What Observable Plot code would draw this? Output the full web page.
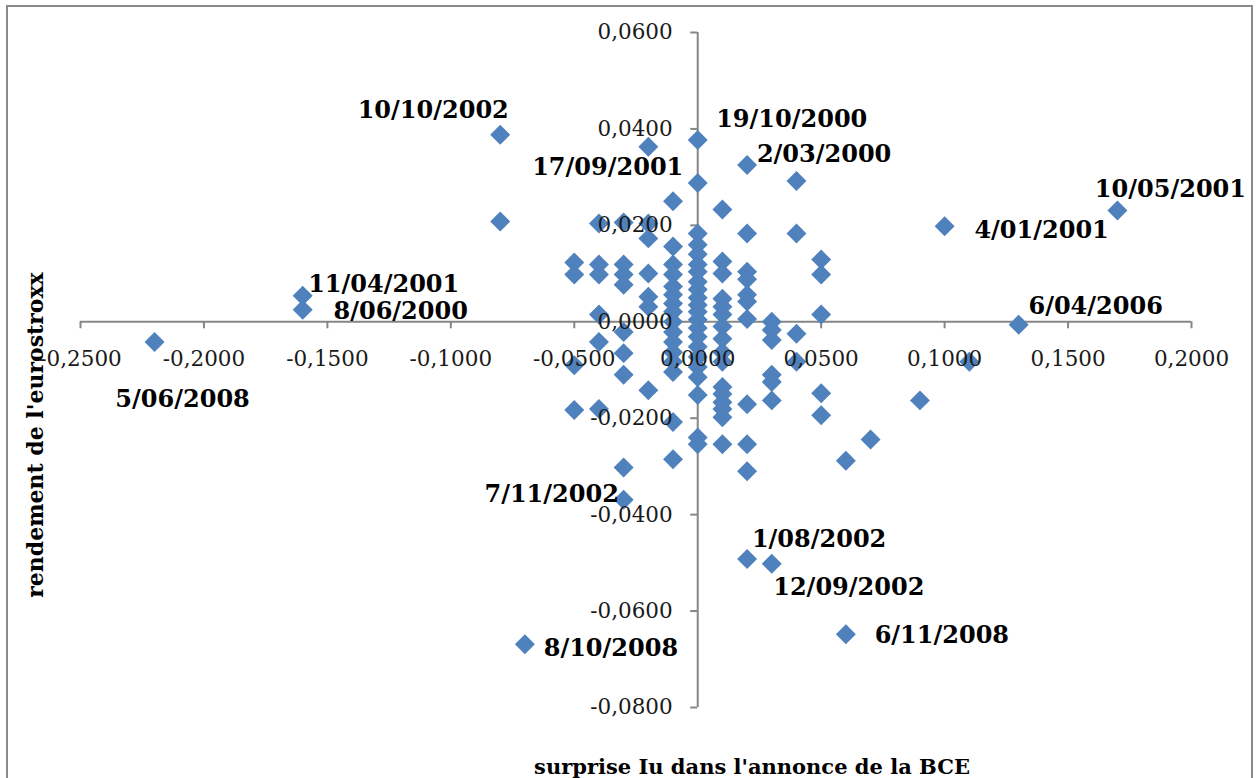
<!DOCTYPE html>
<html>
<head>
<meta charset="utf-8">
<script src="https://cdn.jsdelivr.net/npm/d3@7"></script>
<script src="https://cdn.jsdelivr.net/npm/@observablehq/plot@0.6"></script>
<style>
  html, body { margin: 0; padding: 0; background: #fff; overflow: hidden; }
  #wrap { position: relative; width: 1256px; height: 778px; }
  #border { position: absolute; left: 6px; top: 5px; width: 1247px; height: 800px; border: 2px solid #8a8a8a; box-sizing: border-box; pointer-events: none; }
  #wrap svg { position: absolute; left: 0; top: 0; }
</style>
</head>
<body>
<div id="wrap"><div id="border"></div></div>
<script>
// ---- data ----
const surpriseIu = [
  -0.22,
  -0.16, -0.16,
  -0.08, -0.08,
  -0.07,
  -0.05, -0.05, -0.05, -0.05,
  -0.04, -0.04, -0.04, -0.04, -0.04, -0.04,
  -0.03, -0.03, -0.03, -0.03, -0.03, -0.03, -0.03, -0.03, -0.03,
  -0.02, -0.02, -0.02, -0.02, -0.02, -0.02, -0.02,
  -0.01, -0.01, -0.01, -0.01, -0.01, -0.01, -0.01, -0.01, -0.01, -0.01, -0.01, -0.01, -0.01, -0.01, -0.01, -0.01,
  0, 0, 0, 0, 0, 0, 0, 0, 0, 0, 0, 0, 0, 0, 0, 0, 0, 0, 0, 0, 0, 0,
  0.01, 0.01, 0.01, 0.01, 0.01, 0.01, 0.01, 0.01, 0.01, 0.01, 0.01, 0.01, 0.01, 0.01, 0.01, 0.01,
  0.02, 0.02, 0.02, 0.02, 0.02, 0.02, 0.02, 0.02, 0.02, 0.02, 0.02,
  0.03, 0.03, 0.03, 0.03, 0.03, 0.03, 0.03,
  0.04, 0.04, 0.04, 0.04,
  0.05, 0.05, 0.05, 0.05, 0.05,
  0.06, 0.06,
  0.07, 0.09, 0.10, 0.11, 0.13, 0.17
];
const rendement = [
  -0.0042,
  0.0054, 0.0025,
  0.0388, 0.0208,
  -0.0669,
  0.0123, 0.0098, -0.0090, -0.0183,
  0.0204, 0.0119, 0.0098, 0.0015, -0.0042, -0.0181,
  0.0206, 0.0119, 0.0098, 0.0077, -0.0021, -0.0065, -0.0110, -0.0302, -0.0369,
  0.0363, 0.0204, 0.0173, 0.0100, 0.0052, 0.0031, -0.0142,
  0.0250, 0.0156, 0.0119, 0.0098, 0.0073, 0.0056, 0.0038, 0.0021, 0.0000, -0.0021, -0.0042, -0.0063, -0.0083, -0.0104, -0.0208, -0.0285,
  0.0377, 0.0288, 0.0183, 0.0160, 0.0140, 0.0119, 0.0104, 0.0083, 0.0067, 0.0050, 0.0035, 0.0021, 0.0004, -0.0013, -0.0031, -0.0052, -0.0073, -0.0094, -0.0115, -0.0152, -0.0240, -0.0254,
  0.0233, 0.0125, 0.0100, 0.0048, 0.0031, 0.0015, -0.0010, -0.0035, -0.0063, -0.0083, -0.0135, -0.0150, -0.0167, -0.0181, -0.0198, -0.0254,
  0.0325, 0.0183, 0.0104, 0.0088, 0.0056, 0.0042, 0.0006, -0.0171, -0.0254, -0.0310, -0.0492,
  0.0000, -0.0017, -0.0038, -0.0110, -0.0125, -0.0163, -0.0502,
  0.0292, 0.0183, -0.0025, -0.0083,
  0.0129, 0.0098, 0.0015, -0.0148, -0.0194,
  -0.0288, -0.0648,
  -0.0244, -0.0163, 0.0198, -0.0083, -0.0006, 0.0231
];

const labelDates = ["10/10/2002", "19/10/2000", "2/03/2000", "17/09/2001", "10/05/2001", "4/01/2001",
  "11/04/2001", "8/06/2000", "6/04/2006", "5/06/2008", "7/11/2002", "1/08/2002", "12/09/2002", "6/11/2008", "8/10/2008"];
const labelSurprise = [-0.08, 0, 0.02, 0, 0.17, 0.10, -0.16, -0.16, 0.13, -0.22, -0.03, 0.02, 0.03, 0.06, -0.07];
const labelRendement = [0.0388, 0.0377, 0.0325, 0.0288, 0.0231, 0.0198, 0.0054, 0.0025, -0.0006, -0.0042, -0.0369, -0.0492, -0.0502, -0.0648, -0.0669];

const xTicks = [-0.25, -0.20, -0.15, -0.10, -0.05, 0, 0.05, 0.10, 0.15, 0.20];
const xTickLabels = ["-0,2500", "-0,2000", "-0,1500", "-0,1000", "-0,0500", "0,0000", "0,0500", "0,1000", "0,1500", "0,2000"];
const yTicks = [-0.08, -0.06, -0.04, -0.02, 0, 0.02, 0.04, 0.06];
const yTickLabels = ["-0,0800", "-0,0600", "-0,0400", "-0,0200", "0,0000", "0,0200", "0,0400", "0,0600"];

const xTitle = "surprise Iu dans l'annonce de la BCE";
const yTitle = "rendement de l'eurostroxx";

// ---- layout / styling ----
const labelOffsets = [
  [-67, -24], [94, -21], [77, -11], [-90, -16], [53, -21], [97, 4],
  [81, -11], [98, 2], [77, -18], [28, 57], [-72, -5], [72, -20], [77, 23], [96, 1], [86, 4]
];
const points = surpriseIu.map((x, i) => ({x, y: rendement[i]}));
const labels = labelDates.map((t, i) => ({t, x: labelSurprise[i], y: labelRendement[i]}));

const serif = "DejaVu Serif";
const axisColor = "#868686";
const dotColor = "#4F81BD";

const chart = Plot.plot({
  width: 1256,
  height: 778,
  marginLeft: 80,
  marginRight: 65,
  marginTop: 32,
  marginBottom: 71,
  x: {domain: [-0.25, 0.2], axis: null},
  y: {domain: [-0.08, 0.06], axis: null},
  style: {background: "transparent", fontFamily: serif},
  marks: [
    Plot.ruleY([0], {x1: xTicks[0], x2: xTicks[xTicks.length - 1], stroke: axisColor, strokeWidth: 2}),
    Plot.ruleX([0], {y1: yTicks[0], y2: yTicks[yTicks.length - 1], stroke: axisColor, strokeWidth: 2}),
    Plot.ruleX(xTicks, {x: d => d, y1: 0, y2: 0, insetBottom: -7, stroke: axisColor, strokeWidth: 2}),
    Plot.ruleY(yTicks, {y: d => d, x1: 0, x2: 0, insetLeft: -7, stroke: axisColor, strokeWidth: 2}),
    Plot.dot(points, {x: "x", y: "y", symbol: "diamond2", r: 9, fill: dotColor}),
    Plot.text(xTicks, {x: d => d, y: 0, text: (d, i) => xTickLabels[i], dy: 37, fontSize: 21.5, fill: "#1a1a1a"}),
    Plot.text(yTicks, {x: 0, y: d => d, text: (d, i) => yTickLabels[i], dx: -25, textAnchor: "end", fontSize: 21.5, fill: "#1a1a1a"}),
    ...labels.map((l, i) => Plot.text([l], {x: "x", y: "y", text: "t", dx: labelOffsets[i][0], dy: labelOffsets[i][1],
      fontSize: 24, fontWeight: "bold", fill: "#000"})),
    Plot.text([xTitle], {frameAnchor: "bottom", textAnchor: "middle", lineAnchor: "middle", dx: 116, dy: 60,
      fontSize: 21, fontWeight: "bold", fill: "#000"}),
    Plot.text([yTitle], {frameAnchor: "left", textAnchor: "middle", lineAnchor: "middle", rotate: -90, dx: -45, dy: 65,
      fontSize: 22, fontWeight: "bold", fill: "#000"})
  ]
});
document.getElementById("wrap").appendChild(chart);
</script>
</body>
</html>
